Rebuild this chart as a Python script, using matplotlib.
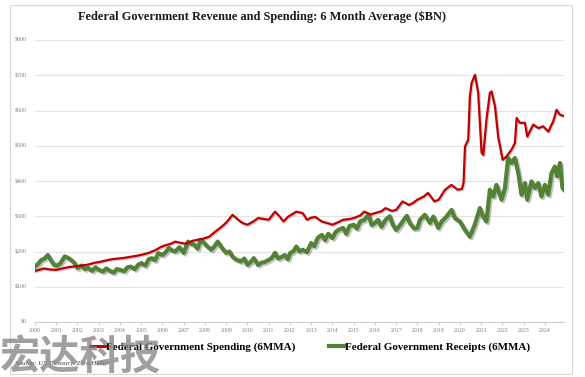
import matplotlib
matplotlib.use("Agg")
import matplotlib.pyplot as plt
import matplotlib.patheffects as pe
from matplotlib.patches import Rectangle
from matplotlib.lines import Line2D

title = "Federal Government Revenue and Spending: 6 Month Average ($BN)"
spend_label = "Federal Government Spending (6MMA)"
recv_label = "Federal Government Receipts (6MMA)"
source = "Source: US Treasury, Zero Hedge"
watermark = "宏达科技"

spend_x = [2000.0, 2000.2, 2000.4, 2000.7, 2001.0, 2001.3, 2001.6, 2001.9, 2002.2, 2002.5,
           2002.8, 2003.0, 2003.3, 2003.6, 2003.9, 2004.2, 2004.5, 2004.8, 2005.1, 2005.4,
           2005.7, 2005.9, 2006.1, 2006.4, 2006.6, 2006.9, 2007.1, 2007.4, 2007.7, 2007.9,
           2008.2, 2008.5, 2008.8, 2009.0, 2009.3, 2009.6, 2009.8, 2010.0, 2010.3, 2010.5,
           2010.8, 2011.0, 2011.3, 2011.5, 2011.7, 2011.9, 2012.0, 2012.3, 2012.6, 2012.8,
           2013.0, 2013.2, 2013.5, 2013.8, 2014.0, 2014.3, 2014.5, 2014.8, 2015.0, 2015.3,
           2015.5, 2015.8, 2016.0, 2016.3, 2016.5, 2016.8, 2017.0, 2017.3, 2017.6, 2017.8,
           2018.0, 2018.3, 2018.5, 2018.8, 2019.0, 2019.3, 2019.6, 2019.9, 2020.1, 2020.17,
           2020.24, 2020.39, 2020.47, 2020.55, 2020.71, 2020.86, 2021.02, 2021.10, 2021.25, 2021.41,
           2021.49, 2021.65, 2021.80, 2022.01, 2022.20, 2022.43, 2022.59, 2022.67, 2022.82, 2023.06,
           2023.17, 2023.45, 2023.69, 2023.92, 2024.16, 2024.39, 2024.55, 2024.71, 2024.86]
spend_y = [145, 148, 152, 149, 148, 152, 156, 158, 160, 163,
           168, 170, 174, 178, 180, 182, 185, 188, 192, 197,
           205, 212, 217, 222, 228, 224, 222, 230, 234, 236,
           242, 257, 271, 282, 304, 288, 280, 276, 286, 295,
           292, 290, 313, 300, 285, 298, 302, 313, 309, 290,
           296, 298, 285, 280, 276, 284, 290, 292, 295, 302,
           313, 305, 309, 314, 323, 315, 318, 342, 332, 338,
           347, 356, 366, 342, 347, 375, 389, 375, 378, 395,
           498, 517, 640, 678, 701, 650, 480, 474, 574, 650,
           654, 612, 526, 460, 470, 489, 508, 579, 565, 565,
           526, 560, 550, 555, 540, 569, 602, 588, 585]

recv_x = [2000.0, 2000.15, 2000.3, 2000.45, 2000.6, 2000.75, 2000.9, 2001.05, 2001.2, 2001.4,
          2001.55, 2001.7, 2001.85, 2002.0, 2002.2, 2002.35, 2002.5, 2002.7, 2002.85, 2003.0,
          2003.2, 2003.35, 2003.5, 2003.7, 2003.85, 2004.0, 2004.2, 2004.35, 2004.5, 2004.7,
          2004.85, 2005.0, 2005.2, 2005.35, 2005.5, 2005.65, 2005.8, 2006.0, 2006.15, 2006.3,
          2006.45, 2006.6, 2006.8, 2007.0, 2007.2, 2007.35, 2007.5, 2007.65, 2007.8, 2007.95,
          2008.1, 2008.3, 2008.45, 2008.6, 2008.8, 2009.0, 2009.15, 2009.3, 2009.5, 2009.7,
          2009.85, 2010.0, 2010.15, 2010.3, 2010.5, 2010.65, 2010.8, 2011.0, 2011.15, 2011.3,
          2011.45, 2011.6, 2011.75, 2011.9, 2012.0, 2012.15, 2012.3, 2012.45, 2012.6, 2012.8,
          2013.0, 2013.15, 2013.3, 2013.5, 2013.65, 2013.8, 2014.0, 2014.15, 2014.3, 2014.5,
          2014.65, 2014.8, 2015.0, 2015.15, 2015.3, 2015.5, 2015.7, 2015.85, 2016.0, 2016.15,
          2016.3, 2016.5, 2016.7, 2016.85, 2017.0, 2017.15, 2017.3, 2017.5, 2017.65, 2017.85,
          2018.0, 2018.12, 2018.35, 2018.59, 2018.75, 2018.98, 2019.14, 2019.37, 2019.61, 2019.76,
          2020.0, 2020.24, 2020.47, 2020.70, 2020.94, 2021.09, 2021.25, 2021.41, 2021.57, 2021.72,
          2021.96, 2022.12, 2022.27, 2022.43, 2022.59, 2022.75, 2022.90, 2023.06, 2023.17, 2023.37,
          2023.53, 2023.69, 2023.84, 2024.0, 2024.16, 2024.31, 2024.47, 2024.58, 2024.71, 2024.83,
          2024.90]
recv_y = [157, 165, 176, 180, 190, 175, 162, 160, 167, 186,
          182, 176, 168, 153, 160, 150, 153, 145, 155, 148,
          143, 152, 146, 140, 150, 148, 144, 155, 157, 150,
          162, 167, 160, 178, 181, 175, 195, 190, 198, 210,
          203, 200, 212, 196, 228, 222, 219, 208, 233, 225,
          215, 205, 215, 228, 210, 196, 200, 185, 176, 172,
          180, 162, 170, 181, 162, 168, 170, 176, 182, 196,
          180, 184, 190, 178, 195, 200, 214, 200, 205, 198,
          224, 215, 238, 247, 232, 250, 238, 255, 262, 267,
          250, 272, 276, 265, 285, 290, 304, 275, 281, 290,
          270, 290, 300, 275, 261, 272, 285, 301, 280, 265,
          267, 290, 304, 281, 299, 267, 285, 299, 318, 295,
          285, 261, 242, 276, 323, 299, 285, 375, 356, 389,
          347, 380, 465, 451, 465, 422, 361, 394, 347, 399,
          380, 394, 356, 389, 361, 422, 441, 413, 451, 380,
          375]

year_ticks = list(range(2000, 2025))
y_ticks = [0, 100, 200, 300, 400, 500, 600, 700, 800]

W, H = 585, 377
fig = plt.figure(figsize=(W / 100, H / 100), dpi=100)
fig.patch.set_facecolor("white")

# outer border
fig.patches.append(Rectangle((10 / W, 1 - 374 / H), 562 / W, 369 / H,
                             transform=fig.transFigure, fill=False,
                             edgecolor="#D9D9D9", linewidth=0.8))

ax = fig.add_axes([35 / W, 1 - 322 / H, 529 / W, 282 / H])
ax.set_xlim(2000, 2024.9)
ax.set_ylim(0, 800)

green_fx = [pe.SimpleLineShadow(offset=(1.2, -1.2), shadow_color="#555555", alpha=0.35), pe.Normal()]
red_fx = [pe.SimpleLineShadow(offset=(0.8, -0.8), shadow_color="#555555", alpha=0.3), pe.Normal()]
ax.plot(recv_x, recv_y, color="#538135", linewidth=3.0, solid_joinstyle="round",
        path_effects=green_fx, zorder=3)
ax.plot(spend_x, spend_y, color="#C00000", linewidth=1.6, solid_joinstyle="round",
        path_effects=red_fx, zorder=4)

ax.set_yticks(y_ticks)
ax.set_yticklabels([f"${v}" for v in y_ticks])
ax.set_xticks(year_ticks)
ax.set_xticklabels([str(y) for y in year_ticks])
ax.grid(axis="y", color="#E3E3E3", linewidth=0.8)
ax.set_axisbelow(True)
for s in ["top", "right", "left"]:
    ax.spines[s].set_visible(False)
ax.spines["bottom"].set_color("#D0D0D0")
ax.spines["bottom"].set_linewidth(0.8)
ax.tick_params(axis="y", length=0, labelsize=4.2, labelcolor="#7F7F7F", pad=6)
ax.tick_params(axis="x", length=2, color="#D0D0D0", labelsize=4.2, labelcolor="#7F7F7F", pad=2)
for t in ax.get_xticklabels() + ax.get_yticklabels():
    t.set_fontfamily("Liberation Serif")

fig.text(0.5 * (78 + 447) / W, 1 - 17 / H, title, ha="center", va="center",
         fontsize=8.9, fontweight="bold", family="Liberation Serif", color="#1a1a1a")

# legend
handles = [Line2D([], [], color="#C00000", linewidth=2.2),
           Line2D([], [], color="#538135", linewidth=3.0)]
fig.legend(handles, [spend_label, recv_label], loc="center", bbox_to_anchor=(310 / W, 1 - 347 / H),
           ncol=2, frameon=False, handlelength=1.5, handletextpad=0.0, columnspacing=3.0,
           prop={"family": "Liberation Serif", "weight": "bold", "size": 7.9})

fig.text(15 / W, 1 - 364 / H, source, ha="left", va="center", fontsize=5,
         style="italic", family="Liberation Serif", color="#404040")

fig.text(0 / W, 1 - 357 / H, watermark, ha="left", va="center", fontsize=29,
         fontweight="bold", family=["Noto Sans CJK SC"], color="#808080", alpha=0.75, zorder=10)

fig.savefig("out.png", dpi=100, facecolor="white")
